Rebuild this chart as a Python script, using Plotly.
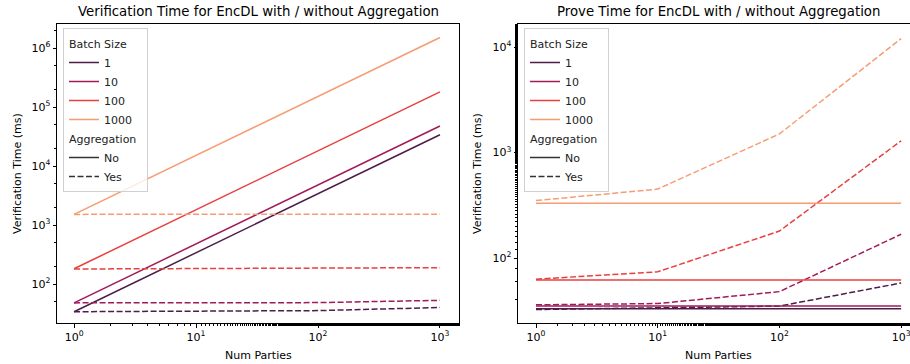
import plotly.graph_objects as go

num_parties = [1, 10, 100, 1000]
batch_sizes = ["1", "10", "100", "1000"]
colors = ["#4c1d4b", "#a11a5b", "#e83f3f", "#f69c73"]

# Verification time (ms), no aggregation / with aggregation
verify_no = {
    "1": [34, 340, 3400, 34000],
    "10": [48, 480, 4800, 48000],
    "100": [182, 1820, 18200, 182000],
    "1000": [1520, 15200, 152000, 1520000],
}
verify_yes = {
    "1": [34, 34.3, 35.5, 40],
    "10": [48, 48, 48.5, 53],
    "100": [180, 182, 185, 190],
    "1000": [1520, 1520, 1520, 1530],
}
# Prove time (ms)
prove_no = {
    "1": [33, 33, 33, 33],
    "10": [35, 35, 35, 35],
    "100": [62, 62, 62, 62],
    "1000": [330, 330, 330, 330],
}
prove_yes = {
    "1": [32.5, 33.5, 35, 58],
    "10": [36, 37, 48, 168],
    "100": [63, 74, 180, 1290],
    "1000": [350, 450, 1500, 12000],
}

tick_vals_x = [1, 10, 100, 1000]
tick_text_x = ["10<sup>0</sup>", "10<sup>1</sup>", "10<sup>2</sup>", "10<sup>3</sup>"]
tick_vals_y1 = [100, 1000, 10000, 100000, 1000000]
tick_text_y1 = ["10<sup>2</sup>", "10<sup>3</sup>", "10<sup>4</sup>", "10<sup>5</sup>", "10<sup>6</sup>"]
tick_vals_y2 = [100, 1000, 10000]
tick_text_y2 = ["10<sup>2</sup>", "10<sup>3</sup>", "10<sup>4</sup>"]

FONT = "DejaVu Sans"
W, H = 910, 364
DASH = "6px,2.5px"

fig = go.Figure()

def add_series(no_d, yes_d, xa, ya):
    for b, c in zip(batch_sizes, colors):
        fig.add_trace(go.Scatter(x=num_parties, y=no_d[b], mode="lines", xaxis=xa, yaxis=ya,
                                 line=dict(color=c, width=1.5), showlegend=False))
        fig.add_trace(go.Scatter(x=num_parties, y=yes_d[b], mode="lines", xaxis=xa, yaxis=ya,
                                 line=dict(color=c, width=1.5, dash=DASH), showlegend=False))

add_series(verify_no, verify_yes, "x", "y")
add_series(prove_no, prove_yes, "x2", "y2")

def add_legend(leg, xa, ya):
    for i, (b, c) in enumerate(zip(batch_sizes, colors)):
        fig.add_trace(go.Scatter(x=[None], y=[None], mode="lines", name=b, xaxis=xa, yaxis=ya,
                                 line=dict(color=c, width=1.5), legend=leg, legendgroup="batch",
                                 legendgrouptitle=dict(text="Batch Size") if i == 0 else None))
    for i, (n, d) in enumerate([("No", "solid"), ("Yes", DASH)]):
        fig.add_trace(go.Scatter(x=[None], y=[None], mode="lines", name=n, xaxis=xa, yaxis=ya,
                                 line=dict(color="#333333", width=1.5, dash=d), legend=leg,
                                 legendgroup="agg",
                                 legendgrouptitle=dict(text="Aggregation") if i == 0 else None))

add_legend("legend", "x", "y")
add_legend("legend2", "x2", "y2")

def px_x(p):
    return p / W

def px_y(p):
    return 1 - p / H

axis_common = dict(type="log", showgrid=False, zeroline=False, showline=True, linecolor="black",
                   linewidth=1, ticks="outside", ticklen=3.5, tickwidth=0.8, tickcolor="black",
                   automargin=False, ticklabeloverflow="allow",
                   tickfont=dict(family=FONT, size=11, color="black"),
                   minor=dict(ticks="outside", ticklen=2, tickwidth=0.6, tickcolor="black", showgrid=False))

legend_common = dict(font=dict(family=FONT, size=11, color="#222"), bgcolor="rgba(255,255,255,0.8)",
                     bordercolor="#d0d0d0", borderwidth=1, xanchor="left", yanchor="top",
                     tracegroupgap=0, traceorder="grouped", itemwidth=30,
                     grouptitlefont=dict(family=FONT, size=11, color="#222"))

def ann(text, x, y, size=11, angle=0):
    return dict(text=text, x=x, y=y, xref="paper", yref="paper", xanchor="center", yanchor="middle",
                showarrow=False, textangle=angle, font=dict(family=FONT, size=size, color="black"))

fig.update_layout(
    template="none",
    width=W, height=H, margin=dict(l=0, r=0, t=0, b=0, autoexpand=False),
    paper_bgcolor="white", plot_bgcolor="white",
    font=dict(family=FONT, size=11, color="black"),
    xaxis=dict(axis_common, domain=[px_x(57), px_x(459)], range=[-0.14, 3.156], mirror=True,
               tickvals=tick_vals_x, ticktext=tick_text_x, anchor="y"),
    yaxis=dict(axis_common, domain=[px_y(323), px_y(24)], range=[1.34, 6.41], mirror=True,
               tickvals=tick_vals_y1, ticktext=tick_text_y1, anchor="x"),
    xaxis2=dict(axis_common, domain=[px_x(518), 1.0], range=[-0.148, 3.073], mirror=True,
                tickvals=tick_vals_x, ticktext=tick_text_x, anchor="y2"),
    yaxis2=dict(axis_common, domain=[px_y(323), px_y(24)], range=[1.384, 4.218], mirror=False,
                tickvals=tick_vals_y2, ticktext=tick_text_y2, anchor="x2"),
    legend=dict(legend_common, x=px_x(63), y=px_y(28)),
    legend2=dict(legend_common, x=px_x(524), y=px_y(28)),
    annotations=[
        ann("Verification Time for EncDL with / without Aggregation", px_x(258), px_y(12), 13.3),
        ann("Prove Time for EncDL with / without Aggregation", px_x(718), px_y(12), 13.3),
        ann("Num Parties", px_x(258), px_y(355)),
        ann("Num Parties", px_x(718), px_y(355)),
        ann("Verification Time (ms)", px_x(17), px_y(174), 11, -90),
        ann("Verification Time (ms)", px_x(477), px_y(174), 11, -90),
    ],
)

fig.write_html("out.html", config={"displayModeBar": False},
               post_script="document.body.style.margin='0px';document.body.style.overflow='hidden';")
